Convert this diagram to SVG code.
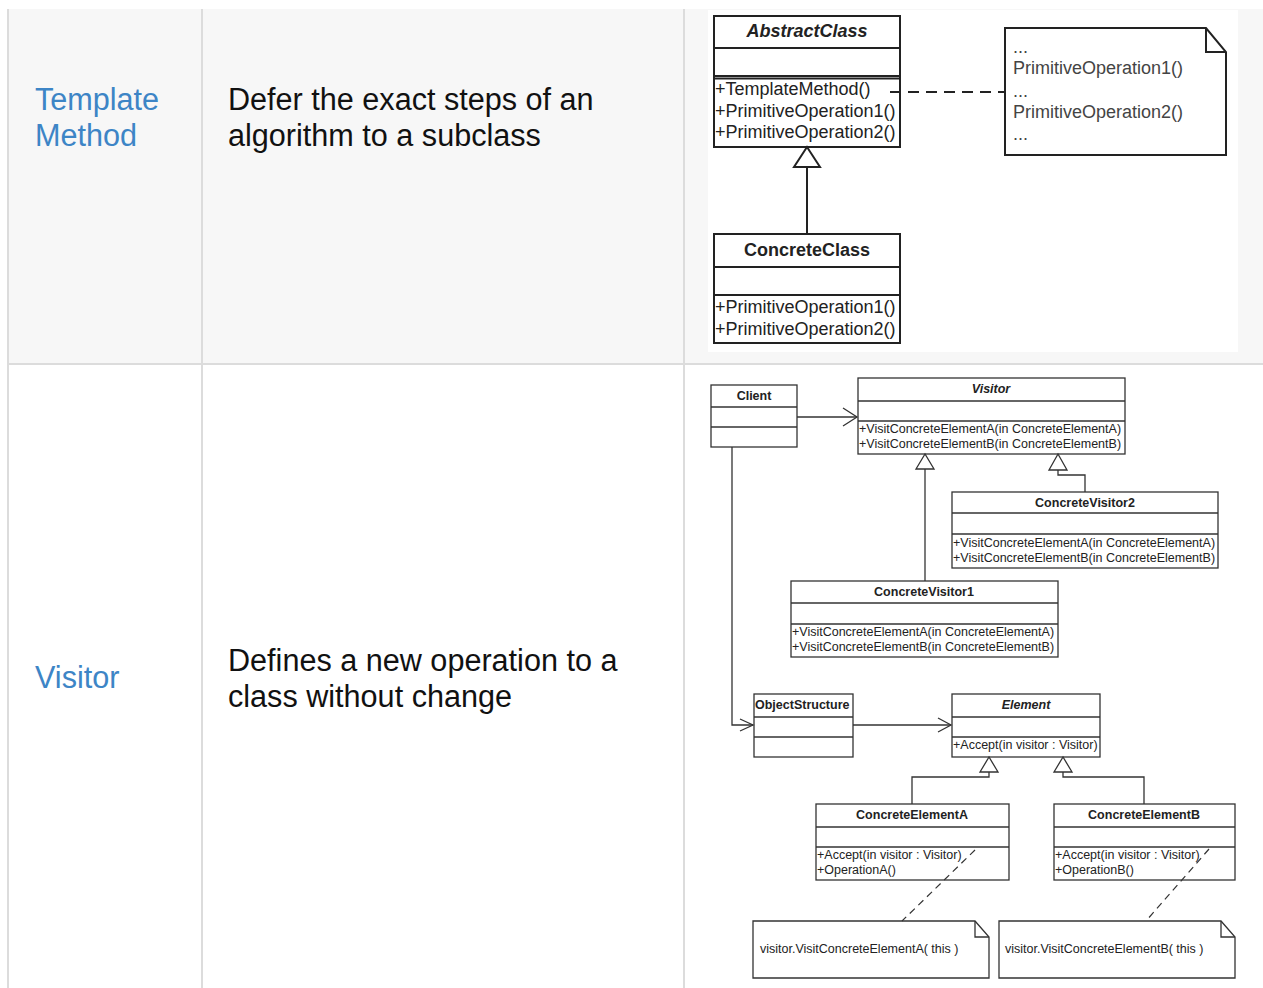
<svg xmlns="http://www.w3.org/2000/svg" width="1263" height="988" viewBox="0 0 1263 988">
<defs>
<style>
.grid{stroke:#dcdcdc;stroke-width:2;fill:none}
.big{font-family:"Liberation Sans",Arial,sans-serif;font-size:30.6px}
.name{fill:#3d85c6}
.desc{fill:#111}
.box1{fill:#fff;stroke:#222;stroke-width:2}
.ln1{stroke:#222;stroke-width:2;fill:none}
.t1{font-family:"Liberation Sans",Arial,sans-serif;font-size:18px;fill:#222}
.t1b{font-family:"Liberation Sans",Arial,sans-serif;font-size:18px;font-weight:bold;fill:#222}
.note1{font-family:"Liberation Sans",Arial,sans-serif;font-size:18px;fill:#444}
.box2{fill:#fff;stroke:#333;stroke-width:1.3}
.ln2{stroke:#333;stroke-width:1.3;fill:none}
.t2{font-family:"Liberation Sans",Arial,sans-serif;font-size:12.5px;fill:#222}
.t2b{font-family:"Liberation Sans",Arial,sans-serif;font-size:12.5px;font-weight:bold;fill:#222}
.dash1{stroke:#222;stroke-width:2;stroke-dasharray:11 7;fill:none}
.dash2{stroke:#333;stroke-width:1.2;stroke-dasharray:7 5;fill:none}
.tri{fill:#fff;stroke:#333;stroke-width:1.3}
.tri1{fill:#fff;stroke:#222;stroke-width:2}
</style>
</defs>
<rect x="0" y="0" width="1263" height="988" fill="#fff"/>
<g id="table">
<rect x="8" y="9" width="1255" height="355" fill="#f7f7f7"/>
<rect x="708" y="10" width="530" height="342" fill="#fff"/>
<line class="grid" x1="8" y1="9" x2="8" y2="988"/>
<line class="grid" x1="202" y1="9" x2="202" y2="988"/>
<line class="grid" x1="684" y1="9" x2="684" y2="988"/>
<line class="grid" x1="8" y1="364" x2="1263" y2="364"/>
</g>
<g id="row1-text">
<text class="big name" x="35" y="110">Template</text>
<text class="big name" x="35" y="146">Method</text>
<text class="big desc" x="228" y="110">Defer the exact steps of an</text>
<text class="big desc" x="228" y="146">algorithm to a subclass</text>
</g>
<g id="row2-text">
<text class="big name" x="35" y="688">Visitor</text>
<text class="big desc" x="228" y="671">Defines a new operation to a</text>
<text class="big desc" x="228" y="707">class without change</text>
</g>
<g id="tm-abstract">
<rect class="box1" x="714" y="16" width="186" height="131"/>
<line class="ln1" x1="714" y1="48" x2="900" y2="48"/>
<line class="ln1" x1="714" y1="76" x2="900" y2="76"/>
<line class="ln1" x1="714" y1="78.5" x2="900" y2="78.5"/>
<text class="t1b" x="807" y="37" text-anchor="middle" font-style="italic">AbstractClass</text>
<text class="t1" x="715" y="95">+TemplateMethod()</text>
<text class="t1" x="715" y="117">+PrimitiveOperation1()</text>
<text class="t1" x="715" y="138">+PrimitiveOperation2()</text>
</g>
<g id="tm-note">
<path class="box1" d="M1005,28 H1206 L1226,52 V155 H1005 Z"/>
<path class="ln1" d="M1206,28 V52 H1226" stroke="#555" stroke-width="1.5"/>
<text class="note1" x="1013" y="53" font-size="12">...</text>
<text class="note1" x="1013" y="74">PrimitiveOperation1()</text>
<text class="note1" x="1013" y="97" font-size="12">...</text>
<text class="note1" x="1013" y="118">PrimitiveOperation2()</text>
<text class="note1" x="1013" y="140" font-size="12">...</text>
</g>
<g id="tm-concrete">
<rect class="box1" x="714" y="234" width="186" height="109"/>
<line class="ln1" x1="714" y1="267" x2="900" y2="267"/>
<line class="ln1" x1="714" y1="295" x2="900" y2="295"/>
<text class="t1b" x="807" y="256" text-anchor="middle">ConcreteClass</text>
<text class="t1" x="715" y="313">+PrimitiveOperation1()</text>
<text class="t1" x="715" y="335">+PrimitiveOperation2()</text>
</g>
<g id="tm-connectors">
<line class="dash1" x1="890" y1="92" x2="1004" y2="92"/>
<line class="ln1" x1="807" y1="167" x2="807" y2="234"/>
<polygon class="tri1" points="807,147 794,167 820,167"/>
</g>
<g id="v-client">
<rect class="box2" x="711" y="385" width="86" height="62"/>
<line class="ln2" x1="711" y1="407" x2="797" y2="407"/>
<line class="ln2" x1="711" y1="427" x2="797" y2="427"/>
<text class="t2b" x="754" y="400" text-anchor="middle">Client</text>
</g>
<g id="v-visitor">
<rect class="box2" x="858" y="378" width="267" height="76"/>
<line class="ln2" x1="858" y1="401" x2="1125" y2="401"/>
<line class="ln2" x1="858" y1="421" x2="1125" y2="421"/>
<text class="t2b" x="991" y="393" text-anchor="middle" font-style="italic">Visitor</text>
<text class="t2" x="859" y="433">+VisitConcreteElementA(in ConcreteElementA)</text>
<text class="t2" x="859" y="448">+VisitConcreteElementB(in ConcreteElementB)</text>
</g>
<g id="v-cv2">
<rect class="box2" x="952" y="492" width="266" height="76"/>
<line class="ln2" x1="952" y1="513" x2="1218" y2="513"/>
<line class="ln2" x1="952" y1="534" x2="1218" y2="534"/>
<text class="t2b" x="1085" y="507" text-anchor="middle">ConcreteVisitor2</text>
<text class="t2" x="953" y="547">+VisitConcreteElementA(in ConcreteElementA)</text>
<text class="t2" x="953" y="562">+VisitConcreteElementB(in ConcreteElementB)</text>
</g>
<g id="v-cv1">
<rect class="box2" x="791" y="581" width="267" height="76"/>
<line class="ln2" x1="791" y1="603" x2="1058" y2="603"/>
<line class="ln2" x1="791" y1="624" x2="1058" y2="624"/>
<text class="t2b" x="924" y="596" text-anchor="middle">ConcreteVisitor1</text>
<text class="t2" x="792" y="636">+VisitConcreteElementA(in ConcreteElementA)</text>
<text class="t2" x="792" y="651">+VisitConcreteElementB(in ConcreteElementB)</text>
</g>
<g id="v-objectstructure">
<rect class="box2" x="754" y="694" width="99" height="63"/>
<line class="ln2" x1="754" y1="717" x2="853" y2="717"/>
<line class="ln2" x1="754" y1="737" x2="853" y2="737"/>
<text class="t2b" x="755" y="709">ObjectStructure</text>
</g>
<g id="v-element">
<rect class="box2" x="952" y="694" width="148" height="63"/>
<line class="ln2" x1="952" y1="717" x2="1100" y2="717"/>
<line class="ln2" x1="952" y1="737" x2="1100" y2="737"/>
<text class="t2b" x="1026" y="709" text-anchor="middle" font-style="italic">Element</text>
<text class="t2" x="953" y="749">+Accept(in visitor : Visitor)</text>
</g>
<g id="v-cea">
<rect class="box2" x="816" y="804" width="193" height="76"/>
<line class="ln2" x1="816" y1="827" x2="1009" y2="827"/>
<line class="ln2" x1="816" y1="847" x2="1009" y2="847"/>
<text class="t2b" x="912" y="819" text-anchor="middle">ConcreteElementA</text>
<text class="t2" x="817" y="859">+Accept(in visitor : Visitor)</text>
<text class="t2" x="817" y="874">+OperationA()</text>
</g>
<g id="v-ceb">
<rect class="box2" x="1054" y="804" width="181" height="76"/>
<line class="ln2" x1="1054" y1="827" x2="1235" y2="827"/>
<line class="ln2" x1="1054" y1="847" x2="1235" y2="847"/>
<text class="t2b" x="1144" y="819" text-anchor="middle">ConcreteElementB</text>
<text class="t2" x="1055" y="859">+Accept(in visitor : Visitor)</text>
<text class="t2" x="1055" y="874">+OperationB()</text>
</g>
<g id="v-noteA">
<path class="box2" d="M753,921 H975 L989,937 V978 H753 Z"/>
<path class="ln2" d="M975,921 V937 H989"/>
<text class="t2" x="760" y="953">visitor.VisitConcreteElementA( this )</text>
</g>
<g id="v-noteB">
<path class="box2" d="M999,921 H1221 L1235,937 V978 H999 Z"/>
<path class="ln2" d="M1221,921 V937 H1235"/>
<text class="t2" x="1005" y="953">visitor.VisitConcreteElementB( this )</text>
</g>
<g id="v-connectors">
<line class="ln2" x1="797" y1="417" x2="857" y2="417"/>
<polyline class="ln2" points="843,408 857,417 843,426"/>
<line class="ln2" x1="925" y1="469" x2="925" y2="581"/>
<polygon class="tri" points="925,454 916,469 934,469"/>
<polyline class="ln2" points="1058,470 1058,475 1085,475 1085,492"/>
<polygon class="tri" points="1058,454 1049,470 1067,470"/>
<polyline class="ln2" points="732,447 732,725 753,725"/>
<polyline class="ln2" points="740,719 753,725 740,731"/>
<line class="ln2" x1="853" y1="725" x2="951" y2="725"/>
<polyline class="ln2" points="938,718 951,725 938,732"/>
<polyline class="ln2" points="989,772 989,777 912,777 912,804"/>
<polygon class="tri" points="989,757 980,772 998,772"/>
<polyline class="ln2" points="1063,772 1063,777 1144,777 1144,804"/>
<polygon class="tri" points="1063,757 1054,772 1072,772"/>
<line class="dash2" x1="975" y1="850" x2="902" y2="921"/>
<line class="dash2" x1="1209" y1="849" x2="1146" y2="921"/>
</g>
</svg>
